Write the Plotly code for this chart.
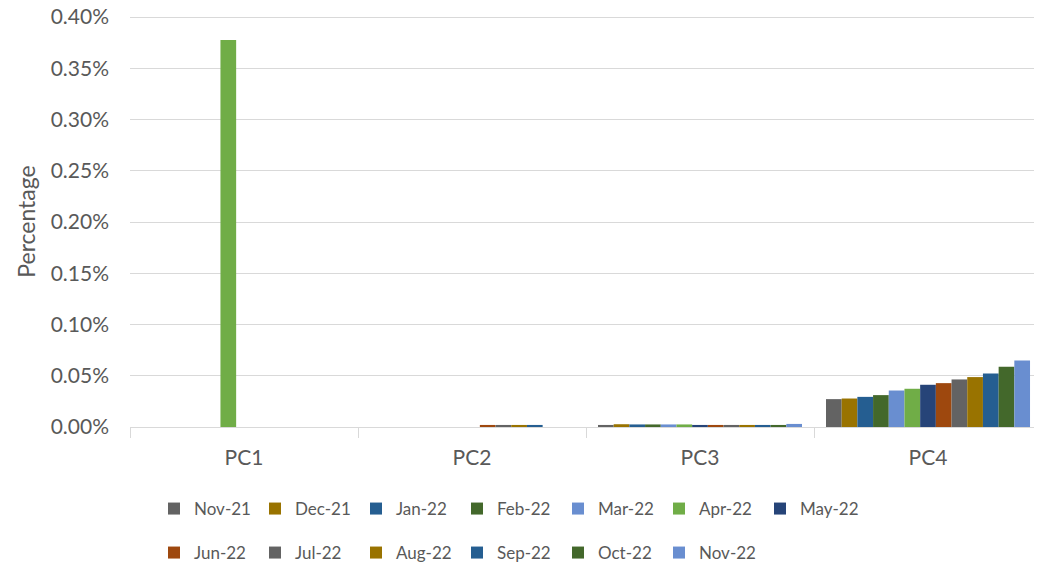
import plotly.graph_objects as go

categories = ["PC1", "PC2", "PC3", "PC4"]
months = ["Nov-21", "Dec-21", "Jan-22", "Feb-22", "Mar-22", "Apr-22", "May-22",
          "Jun-22", "Jul-22", "Aug-22", "Sep-22", "Oct-22", "Nov-22"]
colors = ["#636363", "#997300", "#255E91", "#43682B", "#698ED0", "#70AD47", "#264478",
          "#9E480E", "#636363", "#997300", "#255E91", "#43682B", "#698ED0"]

# values per category, one per month (fractions; axis shows as %)
pc1 = [0, 0, 0, 0, 0, 0.003776, 0, 0, 0, 0, 0, 0, 0]
pc2 = [0, 0, 0, 0, 0, 0, 0, 0.00002, 0.00002, 0.00002, 0.00002, 0, 0]
pc3 = [0.00002, 0.000027, 0.000025, 0.000025, 0.000025, 0.000025, 0.00002,
       0.00002, 0.00002, 0.00002, 0.00002, 0.00002, 0.00003]
pc4 = [0.000272, 0.000278, 0.000294, 0.000311, 0.000356, 0.000373, 0.000412,
       0.000428, 0.000464, 0.000487, 0.000523, 0.000588, 0.00065]

table = [pc1, pc2, pc3, pc4]
FONT = "Lato"
TXT = "#595959"
GRID = "#D9D9D9"

# page body has an 8px margin, so the figure is sized/offset to compensate
W, H = 1034, 558

fig = go.Figure()
for i, m in enumerate(months):
    fig.add_trace(go.Bar(
        x=categories,
        y=[row[i] for row in table],
        name=m,
        marker=dict(color=colors[i], line=dict(width=0)),
        legend="legend" if i < 7 else "legend2",
    ))

legend_common = dict(
    orientation="h", xref="container", yref="container",
    xanchor="left", yanchor="middle",
    font=dict(size=17, color=TXT), bgcolor="rgba(0,0,0,0)", traceorder="normal",
    entrywidth=56, entrywidthmode="pixels",
)

fig.update_layout(
    width=W, height=H,
    margin=dict(l=122, r=0, t=8, b=139, autoexpand=False),
    paper_bgcolor="white", plot_bgcolor="white",
    barmode="group", bargap=0.105, bargroupgap=0,
    font=dict(family=FONT, size=20, color=TXT),
    xaxis=dict(
        showline=True, linecolor=GRID, linewidth=1,
        ticks="outside", tickson="boundaries", ticklen=10, tickcolor=GRID,
        ticklabelstandoff=12,
        tickfont=dict(size=21, color=TXT), showgrid=False,
    ),
    yaxis=dict(
        range=[0, 0.00401], dtick=0.0005, tickformat=".2%",
        showgrid=True, gridcolor=GRID, gridwidth=1,
        zeroline=False, showline=False,
        ticklabelstandoff=20, ticklabeloverflow="allow",
        tickfont=dict(size=21, color=TXT),
        title=dict(text="Percentage", font=dict(size=23, color=TXT), standoff=8),
    ),
    legend=dict(legend_common, x=146 / W, y=1 - 501 / H),
    legend2=dict(legend_common, x=146 / W, y=1 - 545 / H),
)

fig.write_html("out.html")
